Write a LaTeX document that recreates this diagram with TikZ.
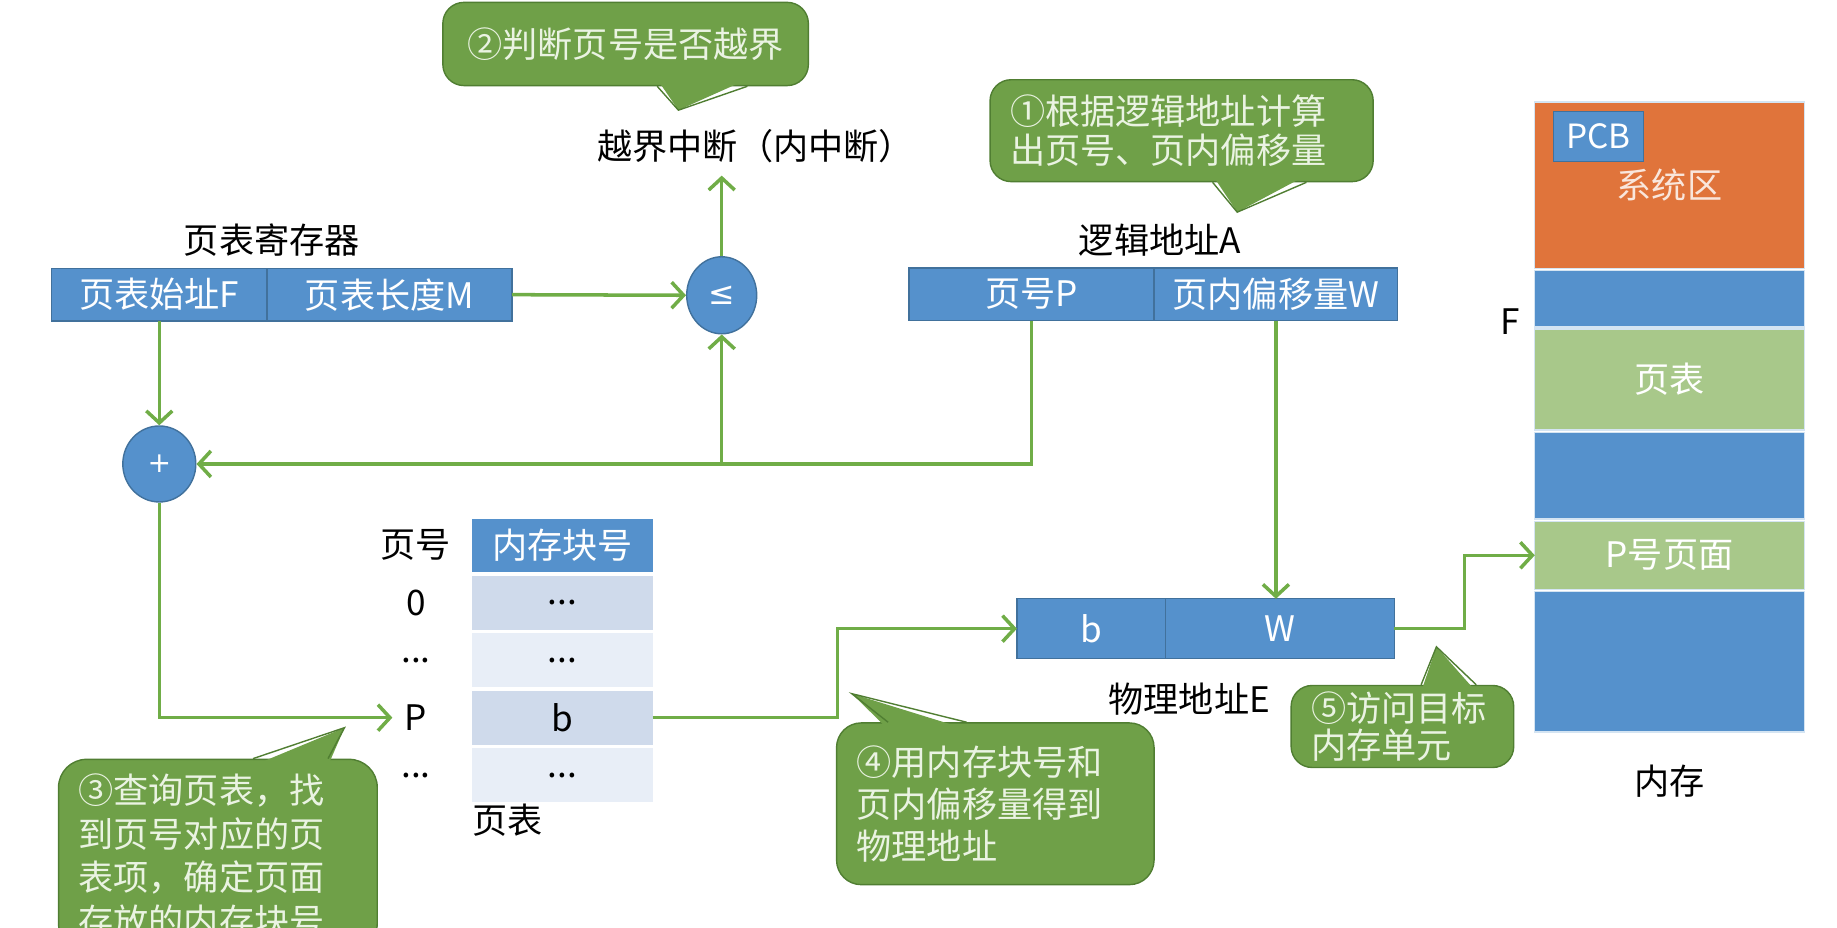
\documentclass[tikz,border=0pt]{standalone}
\usepackage{fontspec}
\setmainfont{Noto Sans CJK SC}
\newfontfamily\symfont{DejaVu Sans}
\usepackage{tikz}
\usetikzlibrary{positioning,arrows.meta,shapes.geometric}
\definecolor{cellblue}{HTML}{5591CC}
\definecolor{cellline}{HTML}{41719C}
\definecolor{sysorange}{HTML}{E0743B}
\definecolor{ptgreen}{HTML}{A8C88A}
\definecolor{bubfill}{HTML}{6FA048}
\definecolor{bubline}{HTML}{507E32}
\definecolor{bubtext}{HTML}{EAF3E2}
\definecolor{linegreen}{HTML}{70AD47}
\definecolor{tabdark}{HTML}{CFDAEB}
\definecolor{tablight}{HTML}{E8EEF7}

\begin{document}
\begin{tikzpicture}[
  font=\fontsize{10}{12}\selectfont,
  cell/.style={draw=cellline,fill=cellblue,text=white,minimum height=0.527cm,
               inner sep=0pt,outer sep=0pt},
  opnode/.style={ellipse,draw=cellline,fill=cellblue,text=white,inner sep=0pt},
  rowA/.style={fill=tabdark,minimum width=1.804cm,minimum height=0.539cm,
               inner sep=0pt,outer sep=0pt},
  rowB/.style={fill=tablight,minimum width=1.804cm,minimum height=0.539cm,
               inner sep=0pt,outer sep=0pt},
  memblk/.style={draw=white!75!cellblue,line width=0.4pt,minimum width=2.695cm,
                 inner sep=0pt,outer sep=0pt,text=white},
  bubble/.style={draw=bubline,line width=0.4pt,fill=bubfill,text=bubtext,
                 rounded corners=6pt,align=left,inner ysep=0pt,inner xsep=0.2cm},
  tail/.style={fill=bubfill},
  tailedge/.style={draw=bubline,line width=0.4pt},
  arr/.style={-{Straight Barb[length=1.2mm,width=2.6mm]},draw=linegreen,line width=1pt},
]
\useasboundingbox (0,0) rectangle (18.37,9.28);
\clip (0,0) rectangle (18.37,9.28);

% page-table register (left)
\node (regname) at (2.718,6.877) {页表寄存器};
\node[cell,minimum width=2.156cm] (ptF) at (1.593,6.333) {页表始址F};
\node[cell,minimum width=2.449cm,right=0pt of ptF] (ptM) {页表长度M};

% compare and add
\node[opnode,minimum width=0.70cm,minimum height=0.77cm,font=\symfont\small] (le) at (7.217,6.327) {≤};
\node (intr) at (7.557,7.815) {越界中断（内中断）};
\node[opnode,minimum width=0.73cm,minimum height=0.76cm,font=\symfont\footnotesize] (plus) at (1.593,4.640) {+};

% logical address
\node (laname) at (11.599,6.877) {逻辑地址A};
\node[cell,minimum width=2.449cm] (lpP) at (10.316,6.338) {页号P};
\node[cell,minimum width=2.437cm,right=0pt of lpP] (lpW) {页内偏移量W};

% physical address
\node[cell,minimum width=1.488cm,minimum height=0.598cm] (paB) at (10.913,2.993) {b};
\node[cell,minimum width=2.285cm,minimum height=0.598cm,right=0pt of paB] (paW) {W};
\node (paname) at (11.892,2.285) {物理地址E};

% page table
\node (hdrno) at (4.159,3.831) {页号};
\node[cell,draw=none,minimum width=1.804cm] (hdrblk) at (5.624,3.825) {内存块号};
\node[rowA] (row0) at (5.624,3.251) {...};
\node[rowB,below=0.035cm of row0] (row1) {...};
\node[rowA,below=0.035cm of row1] (row2) {b};
\node[rowB,below=0.035cm of row2] (row3) {...};
\node (no0) at (hdrno |- row0) {0};
\node (no1) at (hdrno |- row1) {...};
\node (noP) at (hdrno |- row2) {P};
\node (no3) at (hdrno |- row3) {...};
\node (ptname) at (5.073,1.078) {页表};

% main memory (right)
\node[memblk,fill=sysorange,minimum height=1.664cm,text=white!82!sysorange] (sys) at (16.695,7.428) {系统区};
\node[memblk,fill=cellblue,minimum height=0.562cm,below=0.023cm of sys] (m1) {};
\node[memblk,fill=ptgreen,minimum height=1.008cm,below=0.023cm of m1] (mpt) {页表};
\node[memblk,fill=cellblue,minimum height=0.867cm,below=0.023cm of mpt] (m2) {};
\node[memblk,fill=ptgreen,minimum height=0.680cm,below=0.023cm of m2] (mpage) {P号页面};
\node[memblk,fill=cellblue,minimum height=1.406cm,below=0.023cm of mpage] (m3) {};
\node[below=0.2cm of m3] (memname) {内存};
\node[cell,minimum width=0.902cm,minimum height=0.504cm,anchor=north west,
      font=\fontsize{9.5}{11}\selectfont] (pcb) at ([xshift=0.187cm,yshift=-0.094cm]sys.north west) {PCB};
\node[anchor=east] (fmark) at ([xshift=-0.02cm,yshift=0.05cm]m1.south west) {F};

% connectors
\draw[arr] (ptF.south) -- (plus.north);
\draw[arr] (ptM.east) -- (le.west);
\draw[arr] (le.north) -- (le.north |- intr.south);
\draw[arr] (lpP.south) |- (plus.east);
\draw[arr] (le.south |- plus.east) -- (le.south);
\draw[arr] (lpW.south) -- (lpW.south |- paW.north);
\draw[arr] (plus.south) |- (noP.west);
\coordinate (bend4) at ([xshift=-1.793cm]paB.west);
\draw[arr] (row2.east) -| (bend4) -- (paB.west);
\draw[arr] (paW.east) -- ++(0.703cm,0) |- (mpage.west);

% callouts: step 2
\node[bubble,align=center,text width=3.255cm,minimum height=0.832cm] (b2) at (6.256,8.840) {②判断页号是否越界};
\coordinate (tip2) at (6.784,8.178);
\fill[tail] ([xshift=0.316cm,yshift=2pt]b2.south) -- (tip2) -- ([xshift=1.218cm,yshift=2pt]b2.south) -- cycle;
\draw[tailedge] ([xshift=0.316cm]b2.south) -- (tip2) -- ([xshift=1.218cm]b2.south);

% step 1
\node[bubble,text width=3.431cm,minimum height=1.019cm,font=\fontsize{10}{11.3}\selectfont] (b1) at (11.816,7.973)
  {①根据逻辑地址计算\\出页号、页内偏移量};
\coordinate (tip1) at (12.372,7.158);
\fill[tail] ([xshift=0.310cm,yshift=2pt]b1.south) -- (tip1) -- ([xshift=1.248cm,yshift=2pt]b1.south) -- cycle;
\draw[tailedge] ([xshift=0.310cm]b1.south) -- (tip1) -- ([xshift=1.248cm]b1.south);

% step 3
\node[bubble,rounded corners=8pt,text width=2.787cm,minimum height=1.921cm,font=\fontsize{10}{12.4}\selectfont] (b3) at (2.179,0.726)
  {③查询页表，找\\到页号对应的页\\表项，确定页面\\存放的内存块号};
\coordinate (tip3) at (3.445,2.003);
\fill[tail] ([xshift=0.351cm,yshift=-2pt]b3.north) -- (tip3) -- ([xshift=1.101cm,yshift=-2pt]b3.north) -- cycle;
\draw[tailedge] ([xshift=0.351cm]b3.north) -- (tip3) -- ([xshift=1.101cm]b3.north);

% step 4
\node[bubble,rounded corners=7pt,text width=2.775cm,minimum height=1.617cm,font=\fontsize{10}{12}\selectfont] (b4) at (9.953,1.242)
  {④用内存块号和\\页内偏移量得到\\物理地址};
\coordinate (tip4) at (8.518,2.343);
\fill[tail] ([xshift=-1.072cm,yshift=-2pt]b4.north) -- (tip4) -- ([xshift=-0.287cm,yshift=-2pt]b4.north) -- cycle;
\draw[tailedge] ([xshift=-1.072cm]b4.north) -- (tip4) -- ([xshift=-0.287cm]b4.north);

% step 5
\node[bubble,text width=1.826cm,minimum height=0.820cm,font=\fontsize{10}{10.7}\selectfont] (b5) at (14.024,2.015)
  {⑤访问目标\\内存单元};
\coordinate (tip5) at (14.364,2.812);
\fill[tail] ([xshift=0.187cm,yshift=-2pt]b5.north) -- (tip5) -- ([xshift=0.738cm,yshift=-2pt]b5.north) -- cycle;
\draw[tailedge] ([xshift=0.187cm]b5.north) -- (tip5) -- ([xshift=0.738cm]b5.north);
\end{tikzpicture}
\end{document}
